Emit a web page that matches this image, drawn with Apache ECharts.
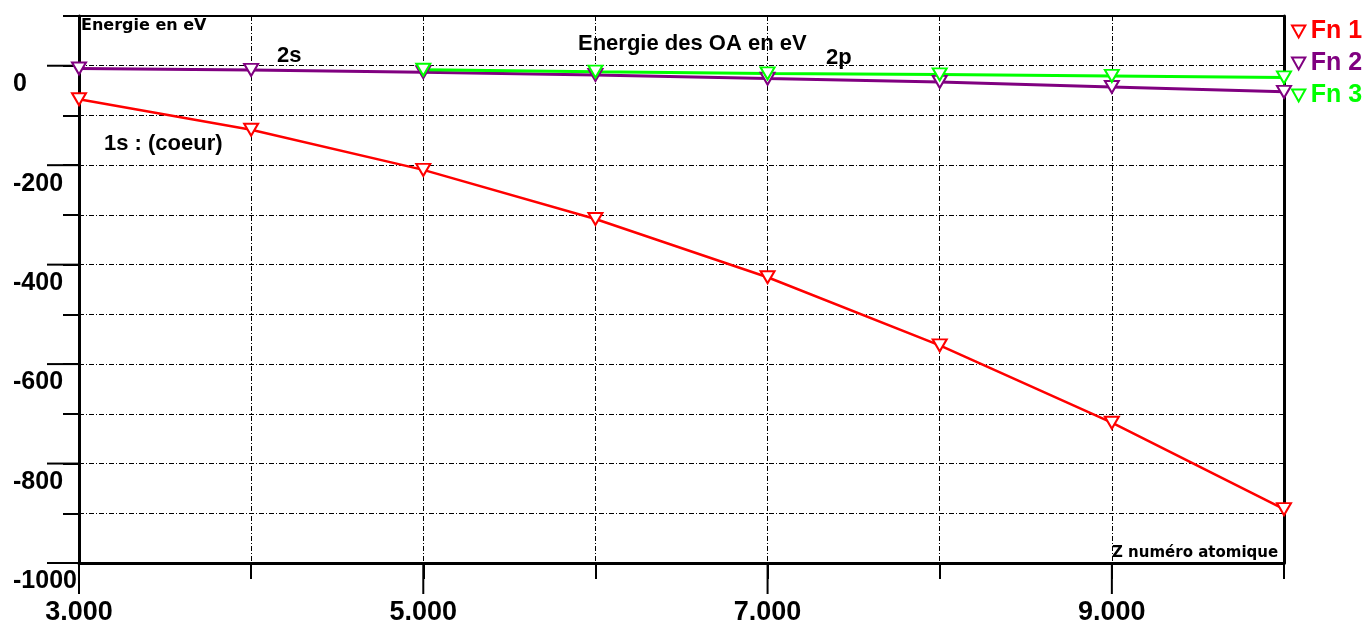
<!DOCTYPE html>
<html>
<head>
<meta charset="utf-8">
<script src="https://cdn.jsdelivr.net/npm/echarts@6/dist/echarts.min.js"></script>
<style>
html,body{margin:0;padding:0;background:#fff;}
#chart{width:1370px;height:626px;}
</style>
</head>
<body>
<div id="chart"></div>
<script>
// ---- Data ----
const zValues = [3, 4, 5, 6, 7, 8, 9, 10];
const fn1Values = [-67.4, -128.8, -209.4, -308.2, -425.3, -562.4, -717.9, -891.8]; // 1s
const fn2Values = [-5.5, -8.4, -13.2, -18.5, -25.8, -32.5, -42.8, -52.5];        // 2s
const fn3Z = [5, 6, 7, 8, 9, 10];
const fn3Values = [-8.0, -12.0, -15.4, -17.5, -20.5, -23.5];                      // 2p
const seriesNames = ['Fn 1', 'Fn 2', 'Fn 3'];
const xMajorTicks = [3, 5, 7, 9];               // labelled x ticks (long)
const yMajorTicks = [-1000, -800, -600, -400, -200, 0]; // labelled y ticks (long)

const colors = ['#ff0000', '#800080', '#00ff00'];
const tri = 'path://M0,0L10,0L5,9Z';
const FONT = '"Liberation Sans", Arial, sans-serif';
const gridDash = { color: '#000', width: 1, type: [5, 2, 1, 2] };
const blackLine = { color: '#000', width: 3 };
const X_MIN = 3, X_MAX = 10, Y_MIN = -1000, Y_MAX = 100;

function pairs(xs, ys) { return xs.map((x, i) => [x, ys[i]]); }

const chart = echarts.init(document.getElementById('chart'));
const mkSeries = (name, data, color, lw) => ({
  name, type: 'line', data,
  symbol: tri, symbolSize: [14, 12], showSymbol: true,
  itemStyle: { color: '#fff', borderColor: color, borderWidth: 2 },
  lineStyle: { color, width: lw },
  emphasis: { disabled: true }, z: 5
});

chart.setOption({
  animation: false,
  backgroundColor: '#fff',
  grid: { left: 79, right: 86, top: 16, bottom: 61, show: true, borderColor: '#000', borderWidth: 2, backgroundColor: 'transparent' },
  legend: {
    orient: 'vertical', left: 1286, top: 14, itemWidth: 14, itemHeight: 12, itemGap: 7,
    icon: tri, selectedMode: false,
    data: seriesNames.map((n, i) => ({ name: n, textStyle: { color: colors[i] } })),
    textStyle: { fontFamily: FONT, fontWeight: 'bold', fontSize: 25 }
  },
  xAxis: {
    type: 'value', min: X_MIN, max: X_MAX, interval: 1, position: 'bottom',
    axisLine: { show: true, onZero: false, lineStyle: blackLine },
    axisTick: { show: true, length: 16, lineStyle: { color: '#000', width: 2 } },
    axisLabel: {
      show: true, margin: 36,
      formatter: (v) => (xMajorTicks.indexOf(v) >= 0 ? v.toFixed(3) : ''),
      fontFamily: FONT, fontWeight: 'bold', fontSize: 27, color: '#000'
    },
    splitLine: { show: true, lineStyle: gridDash }
  },
  yAxis: [
    {
      type: 'value', min: Y_MIN, max: Y_MAX, interval: 100, position: 'left',
      axisLine: { show: true, onZero: false, lineStyle: blackLine },
      axisTick: { show: true, length: 16, lineStyle: { color: '#000', width: 2 } },
      axisLabel: {
        show: true, formatter: (v) => (yMajorTicks.indexOf(v) >= 0 ? String(v) : ''),
        align: 'left', verticalAlign: 'top', margin: 66, padding: [6, 0, 0, 0],
        fontFamily: FONT, fontWeight: 'bold', fontSize: 25, color: '#000'
      },
      splitLine: { show: true, lineStyle: gridDash }
    },
    {
      type: 'value', min: Y_MIN, max: Y_MAX, interval: 100, position: 'right',
      axisLine: { show: true, onZero: false, lineStyle: blackLine },
      axisTick: { show: false }, axisLabel: { show: false }, splitLine: { show: false }
    }
  ],
  graphic: [
    { type: 'text', left: 81, top: 18, style: { text: 'Energie en eV', font: 'bold 16px "DejaVu Sans"', fill: '#000' } },
    { type: 'text', left: 277, top: 45, style: { text: '2s', font: 'bold 22px ' + FONT, fill: '#000' } },
    { type: 'text', left: 578, top: 33, style: { text: 'Energie des OA en eV', font: 'bold 22px ' + FONT, fill: '#000' } },
    { type: 'text', left: 826, top: 47, style: { text: '2p', font: 'bold 22px ' + FONT, fill: '#000' } },
    { type: 'text', left: 104, top: 133, style: { text: '1s : (coeur)', font: 'bold 22px ' + FONT, fill: '#000' } },
    { type: 'text', left: 1112, top: 546, style: { text: 'Z numéro atomique', font: 'bold 15px "DejaVu Sans"', fill: '#000' } }
  ],
  series: [
    mkSeries(seriesNames[0], pairs(zValues, fn1Values), colors[0], 2.5),
    mkSeries(seriesNames[1], pairs(zValues, fn2Values), colors[1], 3),
    mkSeries(seriesNames[2], pairs(fn3Z, fn3Values), colors[2], 3),
    {
      name: 'xMajor', type: 'custom', silent: true, clip: false, z: 3,
      data: xMajorTicks.map((v) => [v, Y_MIN]),
      renderItem: (params, api) => {
        const p = api.coord([api.value(0), api.value(1)]);
        return { type: 'line', shape: { x1: p[0], y1: p[1], x2: p[0], y2: p[1] + 31 }, style: { stroke: '#000', lineWidth: 2 } };
      }
    },
    {
      name: 'yMajor', type: 'custom', silent: true, clip: false, z: 3,
      data: yMajorTicks.map((v) => [X_MIN, v]),
      renderItem: (params, api) => {
        const p = api.coord([api.value(0), api.value(1)]);
        return { type: 'line', shape: { x1: p[0] - 32, y1: p[1], x2: p[0], y2: p[1] }, style: { stroke: '#000', lineWidth: 2 } };
      }
    }
  ]
});
</script>
</body>
</html>
